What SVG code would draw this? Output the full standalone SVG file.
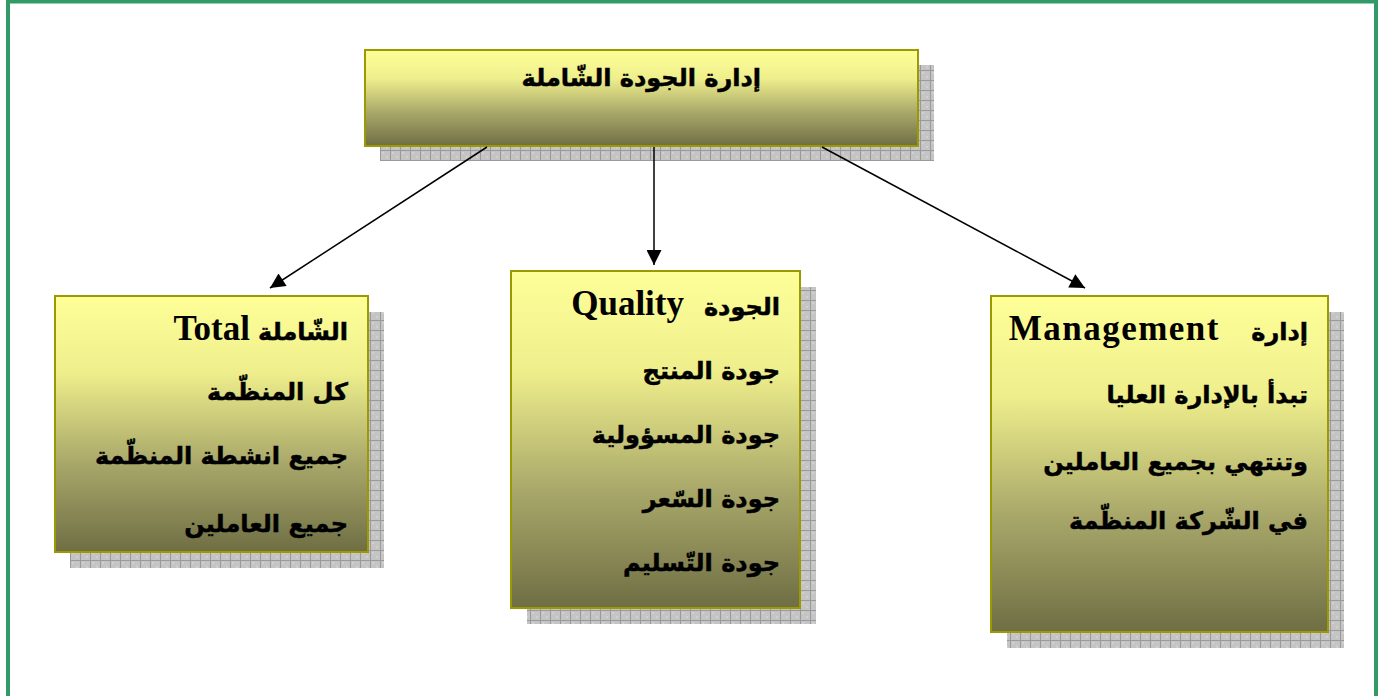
<svg xmlns="http://www.w3.org/2000/svg" width="1382" height="696" viewBox="0 0 1382 696">
  <style>
    .box { stroke: #9c9a00; stroke-width: 2; fill: url(#grad); }
    .shadow { fill: url(#grid); }
    .ar { font-family: "DejaVu Sans", "Liberation Sans", sans-serif; font-weight: bold; font-size: 24px; fill: #000; stroke: #000; stroke-width: 0.5; direction: rtl; text-anchor: start; }
    .en { font-family: "Liberation Serif", serif; font-weight: bold; font-size: 35px; fill: #000; }
  </style>
  <defs>
    <linearGradient id="grad" x1="0" y1="0" x2="0" y2="1">
      <stop offset="0" stop-color="#ffff99"/>
      <stop offset="0.3" stop-color="#eeee8c"/>
      <stop offset="0.65" stop-color="#a9a86a"/>
      <stop offset="1" stop-color="#6f6e44"/>
    </linearGradient>
    <pattern id="grid" width="10" height="10" patternUnits="userSpaceOnUse">
      <rect width="10" height="10" fill="#c4c4c4"/>
      <rect x="2" y="2" width="2" height="2" fill="#d0d0d0"/>
      <rect x="6" y="6" width="2" height="2" fill="#d0d0d0"/>
      <path d="M0 0.5H10M0.5 0V10" stroke="#9a9a9a" stroke-width="1"/>
    </pattern>
    <marker id="arrowBig" viewBox="0 0 10 10" refX="10" refY="5" markerWidth="17" markerHeight="15" markerUnits="userSpaceOnUse" orient="auto">
      <path d="M0 0L10 5L0 10z" fill="#000"/>
    </marker>
  </defs>

  <rect x="0" y="0" width="1382" height="696" fill="#fff"/>
  <rect x="8" y="1.5" width="1368" height="720" fill="none" stroke="#339966" stroke-width="4"/>

  <g id="node-top">
    <rect class="shadow" x="380" y="65" width="554" height="96"/>
    <rect class="box" x="365" y="50" width="553" height="96"/>
    <text class="ar" x="761" y="86">إدارة الجودة الشّاملة</text>
  </g>

  <g id="node-total">
    <rect class="shadow" x="70" y="312" width="314" height="256"/>
    <rect class="box" x="55" y="296" width="313" height="256"/>
    <text class="ar" x="348" y="340">الشّاملة</text>
    <text class="en" x="250" y="340" text-anchor="end">Total</text>
    <text class="ar" x="348" y="400">كل المنظّمة</text>
    <text class="ar" x="348" y="464">جميع انشطة المنظّمة</text>
    <text class="ar" x="348" y="532">جميع العاملين</text>
  </g>

  <g id="node-quality">
    <rect class="shadow" x="527" y="287" width="289" height="337"/>
    <rect class="box" x="511" y="271" width="289" height="337"/>
    <text class="ar" x="780" y="315">الجودة</text>
    <text class="en" x="684" y="315" text-anchor="end" font-size="34">Quality</text>
    <text class="ar" x="780" y="379">جودة المنتج</text>
    <text class="ar" x="780" y="443">جودة المسؤولية</text>
    <text class="ar" x="780" y="507">جودة السّعر</text>
    <text class="ar" x="780" y="571">جودة التّسليم</text>
  </g>

  <g id="node-management">
    <rect class="shadow" x="1007" y="312" width="337" height="336"/>
    <rect class="box" x="991" y="296" width="337" height="336"/>
    <text class="ar" x="1308" y="340">إدارة</text>
    <text class="en" x="1220" y="340" text-anchor="end" font-size="36" letter-spacing="1.5">Management</text>
    <text class="ar" x="1308" y="403">تبدأ بالإدارة العليا</text>
    <text class="ar" x="1308" y="470">وتنتهي بجميع العاملين</text>
    <text class="ar" x="1308" y="529">في الشّركة المنظّمة</text>
  </g>

  <g id="connectors">
    <line x1="487" y1="147" x2="270" y2="288" stroke="#000" stroke-width="1.5" marker-end="url(#arrowBig)"/>
    <line x1="654" y1="147" x2="654" y2="265" stroke="#000" stroke-width="1.5" marker-end="url(#arrowBig)"/>
    <line x1="822" y1="147" x2="1085" y2="288" stroke="#000" stroke-width="1.5" marker-end="url(#arrowBig)"/>
  </g>
</svg>
